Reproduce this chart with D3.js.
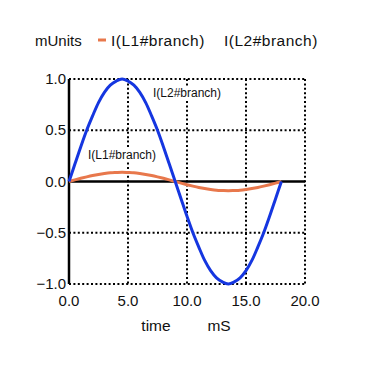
<!DOCTYPE html>
<html>
<head>
<meta charset="utf-8">
<script src="https://cdn.jsdelivr.net/npm/d3@7"></script>
<style>
  body { margin: 0; background: #fff; }
  text { font-family: "Liberation Sans", Arial, sans-serif; fill: #111; }
</style>
</head>
<body>
<div id="vis"></div>
<script>
const WIDTH = 369;
const HEIGHT = 366;

// time in mS
const times = [0, 0.5, 1, 1.5, 2, 2.5, 3, 3.5, 4, 4.5, 5, 5.5, 6, 6.5, 7, 7.5, 8, 8.5, 9,
  9.5, 10, 10.5, 11, 11.5, 12, 12.5, 13, 13.5, 14, 14.5, 15, 15.5, 16, 16.5, 17, 17.5, 18];
// I(L2#branch)
const l2 = [0, 0.17, 0.34, 0.5, 0.64, 0.77, 0.87, 0.94, 0.98, 1.0, 0.98, 0.94, 0.87, 0.77, 0.64, 0.5, 0.34, 0.17, 0,
  -0.17, -0.34, -0.5, -0.64, -0.77, -0.87, -0.94, -0.98, -1.0, -0.98, -0.94, -0.87, -0.77, -0.64, -0.5, -0.34, -0.17, 0];
// I(L1#branch)
const l1 = [0, 0.016, 0.031, 0.045, 0.058, 0.069, 0.078, 0.085, 0.088, 0.09, 0.088, 0.085, 0.078, 0.069, 0.058, 0.045, 0.031, 0.016, 0,
  -0.016, -0.031, -0.045, -0.058, -0.069, -0.078, -0.085, -0.088, -0.09, -0.088, -0.085, -0.078, -0.069, -0.058, -0.045, -0.031, -0.016, 0];

const xTicks = [0, 5, 10, 15, 20];
const yTicks = [-1, -0.5, 0, 0.5, 1];

const svg = d3.select('#vis').append('svg')
  .attr('width', WIDTH)
  .attr('height', HEIGHT);

const x = d3.scaleLinear().domain([0, 20]).range([69, 305]);
const y = d3.scaleLinear().domain([-1, 1]).range([284, 79]);

// grid
const grid = svg.append('g')
  .attr('stroke', '#000')
  .attr('stroke-width', 2)
  .attr('stroke-dasharray', '2,2.4');
grid.selectAll('line.v')
  .data(xTicks.filter(d => d !== 0))
  .join('line')
  .attr('x1', d => x(d)).attr('x2', d => x(d))
  .attr('y1', y(1)).attr('y2', y(-1));
grid.selectAll('line.h')
  .data(yTicks.filter(d => d !== 0))
  .join('line')
  .attr('class', 'h')
  .attr('x1', x(0)).attr('x2', x(20))
  .attr('y1', d => y(d)).attr('y2', d => y(d));

// axes lines
svg.append('line')
  .attr('x1', x(0)).attr('x2', x(0))
  .attr('y1', y(1)).attr('y2', y(-1))
  .attr('stroke', '#000').attr('stroke-width', 2.5);
svg.append('line')
  .attr('x1', x(0)).attr('x2', x(20))
  .attr('y1', y(0)).attr('y2', y(0))
  .attr('stroke', '#000').attr('stroke-width', 2.5);

// tick labels
svg.append('g').selectAll('text')
  .data(yTicks)
  .join('text')
  .attr('x', x(0) - 3)
  .attr('y', d => y(d) + 5)
  .attr('text-anchor', 'end')
  .style('font-size', '15px')
  .text(d => d3.format('.1f')(d));
svg.append('g').selectAll('text')
  .data(xTicks)
  .join('text')
  .attr('x', d => x(d))
  .attr('y', 306)
  .attr('text-anchor', 'middle')
  .style('font-size', '15px')
  .text(d => d3.format('.1f')(d));

svg.append('text').attr('x', 156).attr('y', 331).attr('text-anchor', 'middle')
  .style('font-size', '15.5px').text('time');
svg.append('text').attr('x', 219).attr('y', 331).attr('text-anchor', 'middle')
  .style('font-size', '15.5px').text('mS');

// in-plot labels (white box hides grid behind them)
function plotLabel(px, py, txt) {
  const t = svg.append('text').attr('x', px).attr('y', py)
    .style('font-size', '12px').text(txt);
  const b = t.node().getBBox();
  svg.insert('rect', () => t.node())
    .attr('x', b.x - 1).attr('y', b.y)
    .attr('width', b.width + 2).attr('height', b.height)
    .attr('fill', '#fff');
}
plotLabel(153, 97, 'I(L2#branch)');
plotLabel(88, 159, 'I(L1#branch)');

// curves
const line = d3.line().curve(d3.curveCatmullRom);
svg.append('path')
  .attr('d', line(times.map((t, i) => [x(t), y(l1[i])])))
  .attr('fill', 'none')
  .attr('stroke', '#e8784c')
  .attr('stroke-width', 3);
svg.append('path')
  .attr('d', line(times.map((t, i) => [x(t), y(l2[i])])))
  .attr('fill', 'none')
  .attr('stroke', '#1536e0')
  .attr('stroke-width', 3);

// legend
svg.append('text').attr('x', 35).attr('y', 46)
  .style('font-size', '15px').text('mUnits');
svg.append('line')
  .attr('x1', 98).attr('x2', 106)
  .attr('y1', 40).attr('y2', 40)
  .attr('stroke', '#e8784c').attr('stroke-width', 3);
svg.append('text').attr('x', 111).attr('y', 46)
  .style('font-size', '15.5px').style('letter-spacing', '0.5px').text('I(L1#branch)');
svg.append('text').attr('x', 224).attr('y', 46)
  .style('font-size', '15.5px').style('letter-spacing', '0.5px').text('I(L2#branch)');
</script>
</body>
</html>
